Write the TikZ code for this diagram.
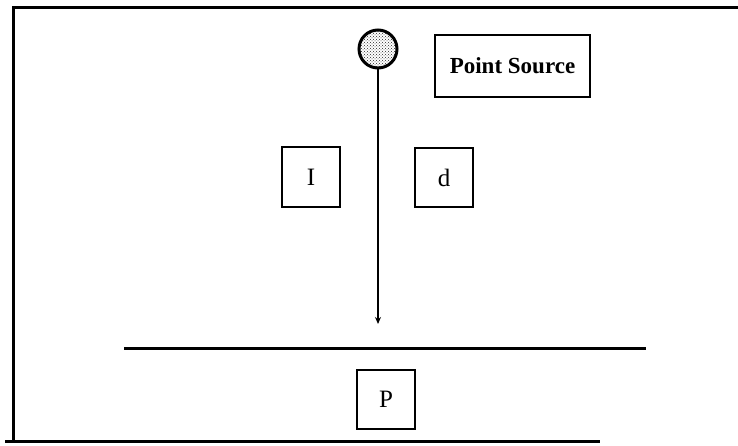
\documentclass[tikz,border=0pt]{standalone}
\usepackage{fontspec}
\setmainfont{Liberation Serif}
\usetikzlibrary{arrows.meta,patterns}
\begin{document}
\begin{tikzpicture}[x=1pt,y=-1pt,
  labelbox/.style={draw,line width=1.5pt,inner sep=0pt,font=\fontsize{25}{28}\selectfont},
  frameline/.style={line width=3pt}]
\useasboundingbox (0,0) rectangle (738,446);
% frame
\coordinate (tl) at (13,8);
\coordinate (tr) at (738,8);
\coordinate (bl) at (13,441);
\coordinate (bl2) at (5,441);
\coordinate (br) at (600,441);
\draw[frameline] (tr) -- (tl) -- (bl);
\draw[frameline] (bl2) -- (br);
% source
\node[circle,draw,line width=3pt,minimum size=38pt,inner sep=0pt,pattern=crosshatch dots,pattern color=black!85] (src) at (378,49) {};
\coordinate (tip) at (378,324);
\draw[line width=1.2pt,-{Stealth[length=7pt,width=6pt]}] (src.south) -- (tip);
% boxes
\node[labelbox,minimum width=155pt,minimum height=62pt,font=\fontsize{23}{26}\selectfont\bfseries] (ps) at (512.5,66) {Point Source};
\node[labelbox,minimum width=58pt,minimum height=60pt] (I) at (311,177) {I};
\node[labelbox,minimum width=58pt,minimum height=59pt] (d) at (444,177.5) {d};
\node[labelbox,minimum width=58pt,minimum height=59pt] (P) at (386,399.5) {P};
% surface
\coordinate (sl) at (124,348);
\coordinate (sr) at (646,348);
\draw[line width=3pt] (sl) -- (sr);
\end{tikzpicture}
\end{document}
